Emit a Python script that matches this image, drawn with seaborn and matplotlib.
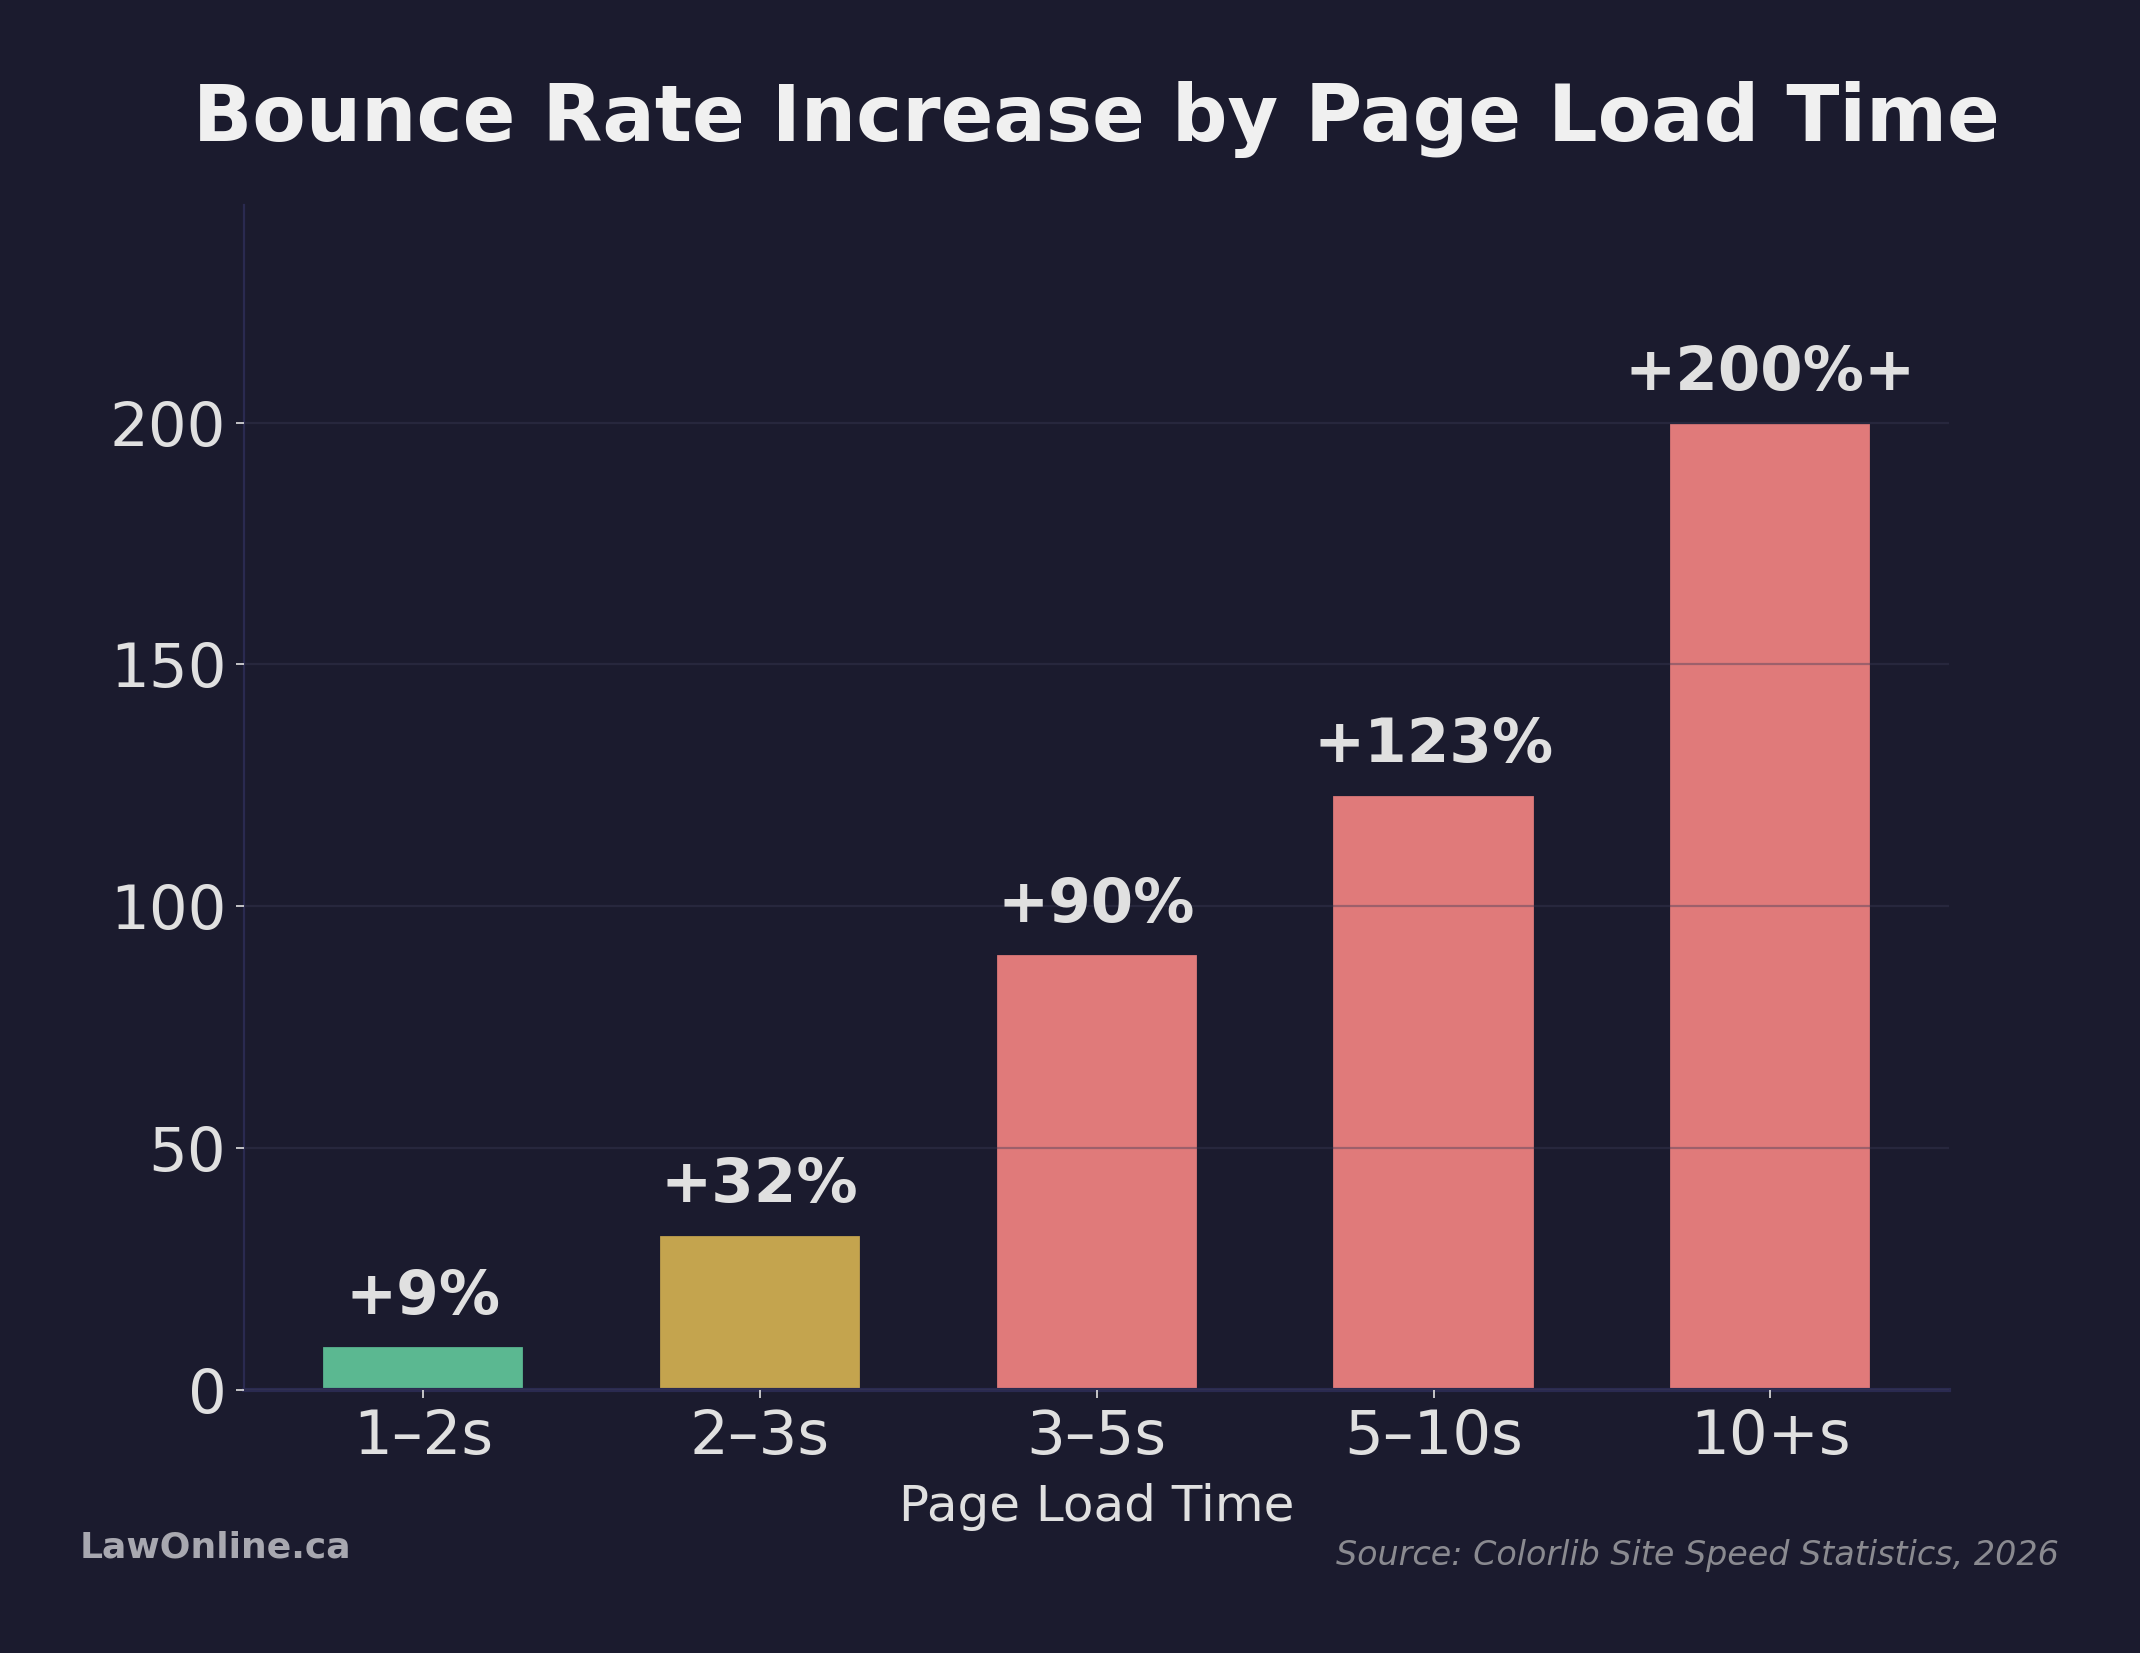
import matplotlib
matplotlib.use("Agg")
import matplotlib.pyplot as plt
import seaborn as sns
import pandas as pd

# data
load_times = ["1–2s", "2–3s", "3–5s", "5–10s", "10+s"]
bounce_increase = [9, 32, 90, 123, 200]
bar_labels = ["+9%", "+32%", "+90%", "+123%", "+200%+"]
bar_colors = ["#5BB891", "#C4A44E", "#E07A7A", "#E07A7A", "#E07A7A"]

bg = "#1B1B2E"
txt = "#E0E0E0"

sns.set_theme(style="dark")
plt.rcParams["font.family"] = ["DejaVu Sans"]

df = pd.DataFrame({"time": load_times, "increase": bounce_increase})

fig = plt.figure(figsize=(10.7, 8.265), dpi=200, facecolor=bg)
ax = fig.add_axes([0.1142, 0.1594, 0.7965, 0.7166])
ax.set_facecolor(bg)

sns.barplot(data=df, x="time", y="increase", hue="time", palette=bar_colors,
            saturation=1, width=0.6, legend=False, edgecolor=bg,
            linewidth=0.8, ax=ax)

for cont, lab in zip(ax.containers, bar_labels):
    ax.bar_label(cont, labels=[lab], padding=7, fontsize=22,
                 fontweight="bold", color=txt)

ax.set_xlim(-0.53, 4.53)
ax.set_ylim(0, 245)
ax.set_yticks([0, 50, 100, 150, 200])

# grid sits above bars, faint on background
ax.grid(axis="y", color="#3A3A55", alpha=0.4, linewidth=0.8)
ax.grid(axis="x", visible=False)
ax.set_axisbelow(False)

for s in ["top", "right"]:
    ax.spines[s].set_visible(False)
ax.spines["left"].set_color("#2A2A50")
ax.spines["left"].set_linewidth(0.8)
ax.spines["bottom"].set_color("#2A2A50")
ax.spines["bottom"].set_linewidth(1.5)

ax.tick_params(axis="both", colors=txt, labelsize=22, length=3, width=0.6,
               bottom=True, left=True)
ax.set_xlabel("Page Load Time", fontsize=18, color=txt, labelpad=6)
ax.set_ylabel("")

fig.text(0.5125, 0.928, "Bounce Rate Increase by Page Load Time",
         ha="center", va="center", fontsize=28, fontweight="bold", color="#F0F0F0")
fig.text(0.037, 0.064, "LawOnline.ca", ha="left", va="center",
         fontsize=13, fontweight="bold", color="#A8A8B0")
fig.text(0.962, 0.059, "Source: Colorlib Site Speed Statistics, 2026",
         ha="right", va="center", fontsize=12, style="italic", color="#8A8A90")

fig.savefig("out.png", dpi=200, facecolor=bg)
